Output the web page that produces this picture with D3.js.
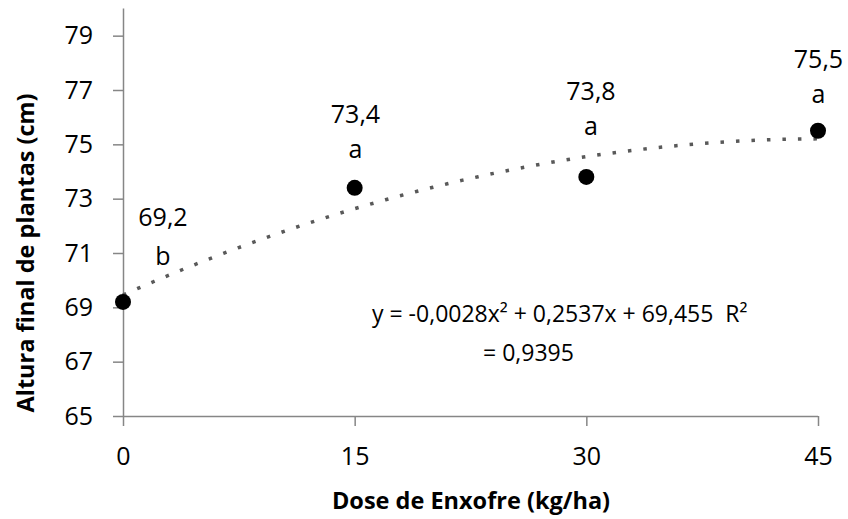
<!DOCTYPE html>
<html>
<head>
<meta charset="utf-8">
<script src="https://cdn.jsdelivr.net/npm/d3@7"></script>
<style>
  body { margin: 0; background: #fff; }
  text { font-family: "Open Sans", sans-serif; fill: #000; white-space: pre; }
</style>
</head>
<body>
<div id="chart"></div>
<script>
// CONSTANTS
const WIDTH = 848;
const HEIGHT = 519;
const margin = { top: 8.5, right: 30, bottom: 103, left: 123 };

// DATA
const doses = [0, 15, 30, 45];
const heights = [69.2, 73.4, 73.8, 75.5];
const valueLabels = ["69,2", "73,4", "73,8", "75,5"];
const letters = ["b", "a", "a", "a"];
const yTicks = [65, 67, 69, 71, 73, 75, 77, 79];
const xTicks = [0, 15, 30, 45];
const coefs = [-0.0028, 0.2537, 69.455];
const eqLine1 = "y = -0,0028x² + 0,2537x + 69,455  R²";
const eqLine2 = "= 0,9395";

const svg = d3.select("#chart").append("svg")
  .attr("width", WIDTH)
  .attr("height", HEIGHT);

const x = d3.scaleLinear().domain([0, 45]).range([margin.left, WIDTH - margin.right]);
const y = d3.scaleLinear().domain([65, 80]).range([HEIGHT - margin.bottom, margin.top]);

// axes
const axisColor = "#868686";
const yAxis = svg.append("g")
  .attr("transform", `translate(${margin.left},0)`)
  .call(d3.axisLeft(y).tickValues(yTicks).tickSize(10).tickPadding(20).tickFormat(d3.format("d")));
const xAxis = svg.append("g")
  .attr("transform", `translate(0,${y(65)})`)
  .call(d3.axisBottom(x).tickValues(xTicks).tickSize(10).tickPadding(21).tickFormat(d3.format("d")));

[yAxis, xAxis].forEach(g => {
  g.select(".domain").attr("stroke", axisColor).attr("stroke-width", 1.5);
  g.selectAll(".tick line").attr("stroke", axisColor).attr("stroke-width", 1.5);
  g.selectAll(".tick text").attr("font-size", 25).attr("font-family", "Open Sans").attr("fill", "#000");
});
// domain lines without outer ticks
yAxis.select(".domain").attr("d", `M0.5,${y(80)}V${y(65)}`);
xAxis.select(".domain").attr("d", `M${x(0)},0.5H${x(45)}`);

// trendline
const curve = d3.range(0, 45.01, 0.5).map(v => [v, coefs[0] * v * v + coefs[1] * v + coefs[2]]);
svg.append("path")
  .datum(curve)
  .attr("fill", "none")
  .attr("stroke", "#595959")
  .attr("stroke-width", 3.5)
  .attr("stroke-dasharray", "3.5,12")
  .attr("d", d3.line().x(d => x(d[0])).y(d => y(d[1])));

// points
svg.selectAll(".pt")
  .data(doses)
  .enter()
  .append("circle")
  .attr("cx", d => x(d))
  .attr("cy", (d, i) => y(heights[i]))
  .attr("r", 8)
  .attr("fill", "#000");

// data labels
const labelPos = [
  { dx: 163, v: 226, l: 265 },
  { dx: 355.5, v: 123, l: 158 },
  { dx: 591, v: 100, l: 135 },
  { dx: 818.5, v: 68, l: 103 }
];
svg.selectAll(".vl")
  .data(valueLabels)
  .enter()
  .append("text")
  .attr("x", (d, i) => labelPos[i].dx)
  .attr("y", (d, i) => labelPos[i].v)
  .attr("text-anchor", "middle")
  .attr("font-size", 25)
  .text(d => d);
svg.selectAll(".lt")
  .data(letters)
  .enter()
  .append("text")
  .attr("x", (d, i) => labelPos[i].dx)
  .attr("y", (d, i) => labelPos[i].l)
  .attr("text-anchor", "middle")
  .attr("font-size", 25)
  .text(d => d);

// equation
svg.append("text")
  .attr("x", 372).attr("y", 322)
  .attr("font-size", 23)
  .text(eqLine1);
svg.append("text")
  .attr("x", 483).attr("y", 361)
  .attr("font-size", 23)
  .text(eqLine2);

// titles
svg.append("text")
  .attr("x", 471).attr("y", 509)
  .attr("text-anchor", "middle")
  .attr("font-size", 23.5)
  .attr("font-weight", "bold")
  .text("Dose de Enxofre (kg/ha)");
svg.append("text")
  .attr("transform", `translate(34,253) rotate(-90)`)
  .attr("text-anchor", "middle")
  .attr("font-size", 23.5)
  .attr("font-weight", "bold")
  .text("Altura final de plantas (cm)");
</script>
</body>
</html>
